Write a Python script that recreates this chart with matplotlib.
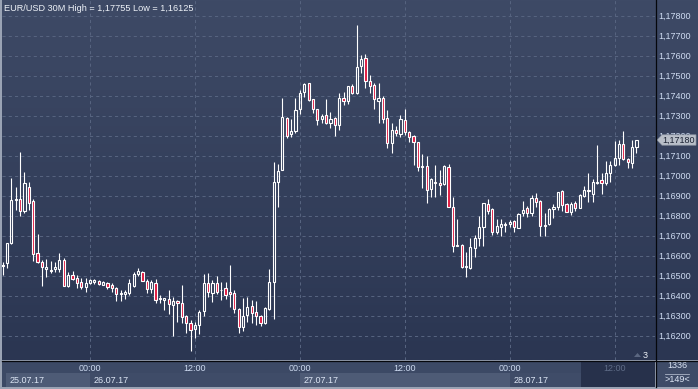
import matplotlib
matplotlib.use("Agg")
import matplotlib.pyplot as plt
import numpy as np
import pandas as pd
from matplotlib.patches import Rectangle, Polygon
from matplotlib.collections import LineCollection
from matplotlib.colors import LinearSegmentedColormap

plt.rcParams['font.family'] = ['Liberation Sans', 'DejaVu Sans']

# EUR/USD 30 minute bars, first bar 25.07.17 14:00
first_bar = "2017-07-25 14:00"
opens = [1.16555, 1.16567, 1.16667, 1.16880, 1.16883, 1.16827, 1.16944, 1.16874, 1.16614, 1.16570,
         1.16535, 1.16527, 1.16534, 1.16537, 1.16580, 1.16452, 1.16505, 1.16488, 1.16469, 1.16444,
         1.16464, 1.16469, 1.16474, 1.16457, 1.16464, 1.16454, 1.16440, 1.16410, 1.16410, 1.16414,
         1.16452, 1.16508, 1.16520, 1.16477, 1.16434, 1.16467, 1.16385, 1.16380, 1.16384, 1.16355,
         1.16374, 1.16364, 1.16300, 1.16267, 1.16234, 1.16255, 1.16324, 1.16464, 1.16417, 1.16467,
         1.16430, 1.16442, 1.16422, 1.16417, 1.16335, 1.16244, 1.16305, 1.16352, 1.16319, 1.16302,
         1.16264, 1.16337, 1.16472, 1.16969, 1.17032, 1.17289, 1.17209, 1.17225, 1.17334, 1.17420,
         1.17464, 1.17384, 1.17334, 1.17284, 1.17305, 1.17267, 1.17289, 1.17255, 1.17389, 1.17375,
         1.17450, 1.17417, 1.17550, 1.17589, 1.17475, 1.17455, 1.17377, 1.17389, 1.17289, 1.17167,
         1.17230, 1.17210, 1.17280, 1.17219, 1.17200, 1.17169, 1.17047, 1.17050, 1.16934, 1.16970,
         1.16964, 1.16960, 1.17044, 1.16844, 1.16654, 1.16654, 1.16547, 1.16539, 1.16639, 1.16689,
         1.16744, 1.16859, 1.16834, 1.16722, 1.16744, 1.16760, 1.16759, 1.16775, 1.16742, 1.16814,
         1.16839, 1.16817, 1.16889, 1.16875, 1.16752, 1.16760, 1.16835, 1.16847, 1.16925, 1.16859,
         1.16819, 1.16867, 1.16842, 1.16900, 1.16930, 1.16910, 1.16964, 1.16980, 1.16964, 1.17014,
         1.17055, 1.17092, 1.17159, 1.17085, 1.17064, 1.17144]
highs = [1.16570, 1.16664, 1.16992, 1.16944, 1.17120, 1.17020, 1.16970, 1.16887, 1.16710, 1.16580,
         1.16585, 1.16575, 1.16570, 1.16614, 1.16589, 1.16522, 1.16527, 1.16504, 1.16490, 1.16490,
         1.16484, 1.16484, 1.16480, 1.16475, 1.16470, 1.16464, 1.16447, 1.16430, 1.16430, 1.16484,
         1.16518, 1.16540, 1.16527, 1.16484, 1.16480, 1.16484, 1.16405, 1.16390, 1.16430, 1.16394,
         1.16379, 1.16454, 1.16305, 1.16280, 1.16272, 1.16330, 1.16509, 1.16514, 1.16480, 1.16500,
         1.16472, 1.16472, 1.16555, 1.16430, 1.16338, 1.16389, 1.16394, 1.16380, 1.16375, 1.16305,
         1.16347, 1.16537, 1.17070, 1.17060, 1.17390, 1.17294, 1.17284, 1.17390, 1.17430, 1.17464,
         1.17467, 1.17387, 1.17337, 1.17310, 1.17384, 1.17322, 1.17297, 1.17414, 1.17422, 1.17450,
         1.17460, 1.17755, 1.17605, 1.17610, 1.17505, 1.17464, 1.17467, 1.17400, 1.17330, 1.17264,
         1.17250, 1.17305, 1.17334, 1.17225, 1.17205, 1.17172, 1.17110, 1.17100, 1.16989, 1.17055,
         1.17030, 1.17055, 1.17060, 1.16894, 1.16785, 1.16659, 1.16622, 1.16689, 1.16705, 1.16800,
         1.16867, 1.16884, 1.16839, 1.16784, 1.16785, 1.16772, 1.16780, 1.16780, 1.16817, 1.16875,
         1.16850, 1.16905, 1.16917, 1.16880, 1.16814, 1.16839, 1.16859, 1.16922, 1.16930, 1.16864,
         1.16872, 1.16875, 1.16909, 1.16950, 1.17017, 1.16984, 1.17155, 1.17014, 1.17075, 1.17075,
         1.17175, 1.17180, 1.17225, 1.17092, 1.17180, 1.17180]
lows = [1.16505, 1.16539, 1.16660, 1.16830, 1.16800, 1.16817, 1.16830, 1.16575, 1.16567, 1.16452,
        1.16494, 1.16514, 1.16522, 1.16519, 1.16450, 1.16447, 1.16480, 1.16439, 1.16435, 1.16422,
        1.16459, 1.16460, 1.16456, 1.16455, 1.16435, 1.16422, 1.16377, 1.16375, 1.16387, 1.16405,
        1.16447, 1.16500, 1.16474, 1.16417, 1.16414, 1.16367, 1.16367, 1.16330, 1.16310, 1.16200,
        1.16272, 1.16264, 1.16217, 1.16125, 1.16189, 1.16210, 1.16300, 1.16397, 1.16372, 1.16410,
        1.16380, 1.16384, 1.16347, 1.16314, 1.16217, 1.16227, 1.16269, 1.16264, 1.16255, 1.16250,
        1.16260, 1.16330, 1.16284, 1.16845, 1.17030, 1.17189, 1.17194, 1.17217, 1.17310, 1.17397,
        1.17377, 1.17317, 1.17255, 1.17264, 1.17260, 1.17239, 1.17200, 1.17230, 1.17355, 1.17359,
        1.17409, 1.17409, 1.17517, 1.17439, 1.17417, 1.17335, 1.17264, 1.17264, 1.17139, 1.17117,
        1.17200, 1.17197, 1.17205, 1.17172, 1.17055, 1.17027, 1.16940, 1.16867, 1.16897, 1.16894,
        1.16905, 1.16955, 1.16844, 1.16622, 1.16650, 1.16542, 1.16497, 1.16535, 1.16594, 1.16650,
        1.16650, 1.16810, 1.16705, 1.16710, 1.16700, 1.16719, 1.16747, 1.16722, 1.16739, 1.16800,
        1.16797, 1.16800, 1.16847, 1.16700, 1.16700, 1.16755, 1.16789, 1.16830, 1.16827, 1.16822,
        1.16805, 1.16827, 1.16839, 1.16897, 1.16872, 1.16872, 1.16962, 1.16909, 1.16955, 1.16972,
        1.17052, 1.17055, 1.17080, 1.17042, 1.17042, 1.17114]
closes = [1.16550, 1.16664, 1.16880, 1.16885, 1.16827, 1.16964, 1.16867, 1.16609, 1.16572, 1.16544,
          1.16547, 1.16525, 1.16547, 1.16580, 1.16450, 1.16505, 1.16484, 1.16467, 1.16444, 1.16464,
          1.16480, 1.16480, 1.16462, 1.16470, 1.16447, 1.16442, 1.16410, 1.16417, 1.16418, 1.16464,
          1.16510, 1.16527, 1.16477, 1.16434, 1.16472, 1.16380, 1.16387, 1.16389, 1.16359, 1.16375,
          1.16364, 1.16294, 1.16264, 1.16230, 1.16255, 1.16322, 1.16464, 1.16422, 1.16467, 1.16422,
          1.16428, 1.16405, 1.16409, 1.16334, 1.16244, 1.16300, 1.16347, 1.16317, 1.16302, 1.16264,
          1.16342, 1.16469, 1.16969, 1.17027, 1.17295, 1.17200, 1.17225, 1.17330, 1.17417, 1.17459,
          1.17380, 1.17334, 1.17280, 1.17302, 1.17264, 1.17284, 1.17255, 1.17389, 1.17375, 1.17450,
          1.17417, 1.17547, 1.17584, 1.17477, 1.17452, 1.17384, 1.17392, 1.17284, 1.17164, 1.17230,
          1.17214, 1.17284, 1.17219, 1.17197, 1.17172, 1.17044, 1.17052, 1.16930, 1.16984, 1.16967,
          1.16955, 1.17050, 1.16847, 1.16652, 1.16652, 1.16547, 1.16550, 1.16644, 1.16689, 1.16747,
          1.16864, 1.16827, 1.16722, 1.16750, 1.16759, 1.16757, 1.16772, 1.16744, 1.16810, 1.16830,
          1.16814, 1.16889, 1.16872, 1.16752, 1.16755, 1.16835, 1.16847, 1.16919, 1.16855, 1.16822,
          1.16859, 1.16842, 1.16905, 1.16930, 1.16927, 1.16970, 1.16972, 1.16964, 1.17014, 1.17055,
          1.17092, 1.17159, 1.17085, 1.17069, 1.17144, 1.17180]

price_ticks = [1.178, 1.177, 1.176, 1.175, 1.174, 1.173, 1.172, 1.171, 1.170,
               1.169, 1.168, 1.167, 1.166, 1.165, 1.164, 1.163, 1.162]
price_labels = ["1,17800", "1,17700", "1,17600", "1,17500", "1,17400", "1,17300",
                "1,17200", "1,17100", "1,17000", "1,16900", "1,16800", "1,16700",
                "1,16600", "1,16500", "1,16400", "1,16300", "1,16200"]
title = "EUR/USD 30M High = 1,17755 Low = 1,16125"
last_label = "1,17180"
counter_top, counter_bottom = "1336", ">149<"

W, H = 698, 389
BAR_PX = 4.372
UP_EDGE = "#ffffff"
DOWN_FILL = "#e0173e"
TXT = "#cfdcf2"
FS = 6.5


def px_axes(fig, x0, y0, x1, y1, **kw):
    return fig.add_axes([x0 / W, 1 - y1 / H, (x1 - x0) / W, (y1 - y0) / H], **kw)


def bare(ax):
    # hide ticks and spines but keep the background patch
    ax.set_xticks([])
    ax.set_yticks([])
    for s in ax.spines.values():
        s.set_visible(False)


def main():
    times = pd.date_range(first_bar, periods=len(opens), freq="30min")
    idx = np.arange(len(opens))
    o, h, l, c = map(np.array, (opens, highs, lows, closes))

    fig = plt.figure(figsize=(W / 100, H / 100), dpi=100, facecolor="#9aa3b4")

    # gradient background behind chart and price scale
    bg = px_axes(fig, 2, 0, 698, 360)
    grad = np.linspace(0, 1, 256).reshape(-1, 1)
    cmap = LinearSegmentedColormap.from_list("bg", ["#3e4a66", "#2b3652"])
    bg.imshow(grad, cmap=cmap, aspect="auto", extent=[0, 1, 0, 1])
    bg.set_axis_off()

    x_left = -0.128
    x_right = x_left + 653 / BAR_PX
    ylo, yhi = 1.1608, 1.1788

    ax = px_axes(fig, 2, 0, 655, 360)
    ax.set_facecolor("none")
    ax.set_xlim(x_left, x_right)
    ax.set_ylim(ylo, yhi)
    for s in ax.spines.values():
        s.set_visible(False)

    grid_idx = [i for i, t in enumerate(times) if t.minute == 0 and t.hour in (0, 12)]
    ax.set_xticks(grid_idx)
    ax.set_yticks(price_ticks)
    ax.tick_params(length=0, labelleft=False, labelbottom=False)
    ax.grid(True, color="#56637f", linestyle=(0, (3, 3)), linewidth=0.75)
    ax.set_axisbelow(True)

    # wicks only outside the body, so hollow candles stay hollow
    top = np.maximum(o, c)
    bot = np.minimum(o, c)
    segs = []
    for i in idx:
        if h[i] > top[i]:
            segs.append([(i, top[i]), (i, h[i])])
        if l[i] < bot[i]:
            segs.append([(i, l[i]), (i, bot[i])])
    ax.add_collection(LineCollection(segs, colors=UP_EDGE, linewidths=0.8, zorder=3))

    bw = 0.5
    for i in idx:
        hgt = max(top[i] - bot[i], 0.00003)
        face = "none" if c[i] >= o[i] else DOWN_FILL
        ax.add_patch(Rectangle((i - bw / 2, bot[i]), bw, hgt, facecolor=face,
                               edgecolor=UP_EDGE, linewidth=0.8, zorder=4))

    # price scale
    pax = px_axes(fig, 655, 0, 698, 360)
    pax.set_facecolor("none")
    pax.set_xlim(0, 43)
    pax.set_ylim(ylo, yhi)
    pax.set_axis_off()
    for v, s in zip(price_ticks, price_labels):
        pax.text(3, v, s, color=TXT, fontsize=FS, va="center", ha="left", zorder=2)
    last = c[-1]
    hh = 0.00026
    pax.add_patch(Polygon([(2, last), (7, last + hh), (41, last + hh), (41, last - hh),
                           (7, last - hh)], closed=True, facecolor="#b9bfc9",
                          edgecolor="#8d95a3", linewidth=0.5, zorder=5))
    pax.text(23.5, last, last_label, color="#1b2233", fontsize=FS, va="center",
             ha="center", zorder=6)

    # time scale
    tax = px_axes(fig, 2, 361, 655, 387)
    tax.set_xlim(x_left, x_right)
    tax.set_ylim(1, 0)
    tax.set_facecolor("#3c4965")
    bare(tax)
    days = [i for i, t in enumerate(times) if i == 0 or t.date() != times[i - 1].date()]
    for n, d in enumerate(days):
        start = d if d > 0 else d + 0.8
        end = days[n + 1] if n + 1 < len(days) else x_right
        col = "#4e5b76" if n % 2 == 0 else "#3f4c68"
        tax.add_patch(Rectangle((start, 0.46), end - start, 0.54, facecolor=col,
                                edgecolor="none", zorder=1))
        tax.text(start + 0.9, 0.75, times[d].strftime("%d.%m.%y"), color="#dde6f5",
                 fontsize=FS, va="center", ha="left", zorder=3)
    dark_from = 132.3
    tax.add_patch(Rectangle((dark_from, 0), x_right - dark_from, 1, facecolor="#27314b",
                            edgecolor="none", zorder=2))
    for i in grid_idx:
        col = "#5f6c87" if i > dark_from else TXT
        tax.text(i, 0.27, times[i].strftime("%H:%M"), color=col, fontsize=FS,
                 va="center", ha="center", zorder=3)

    # bar counter box
    cax = px_axes(fig, 656, 361, 698, 387)
    cax.set_facecolor("#3e4b67")
    cax.set_xlim(0, 42)
    cax.set_ylim(26, 0)
    bare(cax)
    cax.text(21, 4.6, counter_top, color="#dde6f5", fontsize=FS, ha="center", va="center")
    cax.plot([9, 33], [12.5, 12.5], color="#aab4c6", linewidth=0.6)
    cax.text(21, 18.8, counter_bottom, color="#dde6f5", fontsize=FS, ha="center", va="center")

    # overlay in pixel units for separators and labels
    ov = px_axes(fig, 0, 0, 698, 389)
    ov.set_xlim(0, W)
    ov.set_ylim(H, 0)
    ov.set_facecolor("none")
    ov.set_axis_off()
    ov.plot([655.5, 655.5], [0, 387], color="#05070c", linewidth=0.9)
    ov.plot([2, 698], [360.5, 360.5], color="#05070c", linewidth=0.9)
    ov.text(4, 8, title, color="#eef2f8", fontsize=FS + 0.1, va="center", ha="left")
    ov.add_patch(Polygon([(634, 357), (637.5, 353), (641, 357)], closed=True,
                         facecolor="#5b6781", edgecolor="none"))
    ov.text(642.5, 355, "3", color="#eef2f8", fontsize=FS, va="center", ha="left")

    fig.savefig("out.png", dpi=100, facecolor=fig.get_facecolor())


if __name__ == "__main__":
    main()
